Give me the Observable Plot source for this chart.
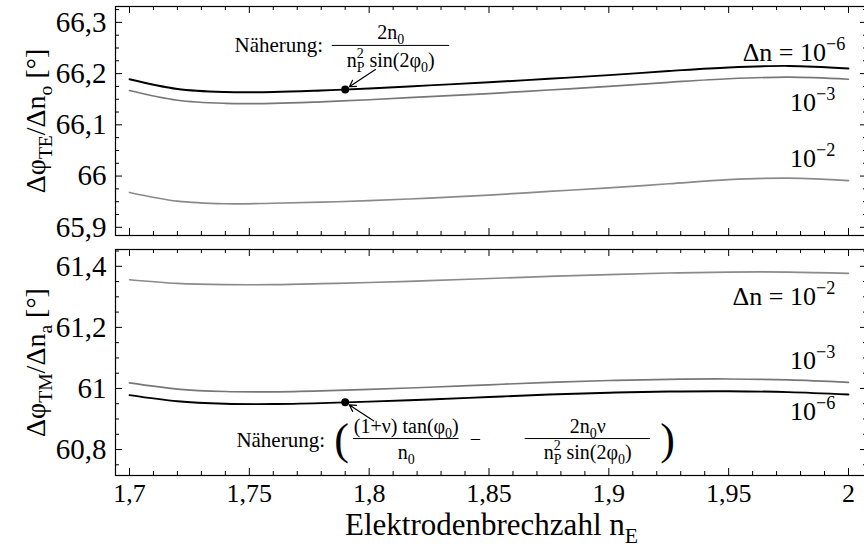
<!DOCTYPE html>
<html><head><meta charset="utf-8">
<script src="https://cdn.jsdelivr.net/npm/d3@7"></script>
<script src="https://cdn.jsdelivr.net/npm/@observablehq/plot@0.6"></script>
<style>
html,body{margin:0;padding:0;background:#fff;overflow:hidden}
#chart svg{display:block;max-width:none}
</style></head><body><div id="chart"></div>
<script>
// ---------- data ----------
const nE = [1.70, 1.72, 1.74, 1.76, 1.78, 1.80, 1.825, 1.85, 1.875, 1.90, 1.925, 1.95, 1.975, 2.00];
// TE panel (Δφ_TE/Δn_o)
const te_1e6 = [66.189, 66.170, 66.164, 66.164, 66.167, 66.171, 66.177, 66.183, 66.190, 66.197, 66.205, 66.212, 66.215, 66.210];
const te_1e3 = [66.167, 66.148, 66.142, 66.142, 66.145, 66.149, 66.155, 66.161, 66.168, 66.175, 66.183, 66.190, 66.193, 66.189];
const te_1e2 = [65.968, 65.951, 65.946, 65.947, 65.949, 65.952, 65.957, 65.963, 65.970, 65.977, 65.985, 65.993, 65.996, 65.991];
// TM panel (Δφ_TM/Δn_a)
const tm_1e2 = [61.356, 61.344, 61.340, 61.340, 61.343, 61.347, 61.353, 61.360, 61.367, 61.373, 61.378, 61.381, 61.381, 61.377];
const tm_1e3 = [61.018, 60.998, 60.990, 60.989, 60.992, 60.997, 61.004, 61.012, 61.020, 61.026, 61.030, 61.031, 61.028, 61.020];
const tm_1e6 = [60.978, 60.958, 60.950, 60.949, 60.952, 60.957, 60.964, 60.972, 60.980, 60.986, 60.990, 60.991, 60.988, 60.980];

// approximation points ("Näherung")
const approxX = 1.79;
const approxTE = 66.169;
const approxTM = 60.955;

const xTicks = [1.7, 1.75, 1.8, 1.85, 1.9, 1.95, 2];
const yTicksTE = [65.9, 66, 66.1, 66.2, 66.3];
const yTicksTM = [60.8, 61, 61.2, 61.4];

// ---------- helpers ----------
const FONT = "'Liberation Serif', 'DejaVu Serif', serif";
const fmt = d => String(+d.toFixed(3)).replace(".", ",");
const W = 864, ML = 115, MR = -3;
const xDomain = [1.69416, 2.00793];
const rows = (arr, s) => nE.map((x, i) => ({x, y: arr[i], s}));
const minorX = d3.range(169, 201).map(d => d / 100).filter(v => v >= xDomain[0] && !xTicks.some(t => Math.abs(t - v) < 1e-9));

function tickRules(fh, fw, yMajor, yMinor) {
  const L = 7, l = 4;
  return [
    Plot.ruleX(xTicks, {x: d => d, insetBottom: fh - L, stroke: "black"}),
    Plot.ruleX(xTicks, {x: d => d, insetTop: fh - L, stroke: "black"}),
    Plot.ruleX(minorX, {x: d => d, insetBottom: fh - l, stroke: "black"}),
    Plot.ruleX(minorX, {x: d => d, insetTop: fh - l, stroke: "black"}),
    Plot.ruleY(yMajor, {y: d => d, insetRight: fw - L, stroke: "black"}),
    Plot.ruleY(yMajor, {y: d => d, insetLeft: fw - L, stroke: "black"}),
    Plot.ruleY(yMinor, {y: d => d, insetRight: fw - l, stroke: "black"}),
    Plot.ruleY(yMinor, {y: d => d, insetLeft: fw - l, stroke: "black"})
  ];
}

function richify(root) {
  root.querySelectorAll("text").forEach(el => {
    const s = el.textContent;
    if (!/[_^]\{/.test(s)) return;
    const fs = parseFloat(getComputedStyle(el).fontSize);
    const segs = []; const re = /([_^])\{([^}]*)\}|([^_^]+)/g; let m;
    while ((m = re.exec(s))) segs.push(m[3] !== undefined ? {t: m[3], k: 0} : {t: m[2], k: m[1] === "_" ? 1 : 2});
    el.textContent = "";
    let cur = 0, prevSupW = 0, prevK = 0;
    segs.forEach(sg => {
      const ts = document.createElementNS("http://www.w3.org/2000/svg", "tspan");
      const shift = sg.k === 1 ? 0.25 * fs : sg.k === 2 ? -0.42 * fs : 0;
      ts.setAttribute("dy", (shift - cur).toFixed(2));
      cur = shift;
      if (sg.k) ts.setAttribute("font-size", (0.7 * fs).toFixed(2));
      if (sg.k === 1 && prevK === 2) ts.setAttribute("dx", (-prevSupW).toFixed(2));
      ts.textContent = sg.t;
      el.appendChild(ts);
      if (sg.k === 2) prevSupW = ts.getComputedTextLength();
      prevK = sg.k;
    });
  });
}

const style = {fontFamily: FONT, fontSize: "28px", background: "white", color: "black", overflow: "hidden"};
const lineStyle = {
  "1e-6": {stroke: "#000", strokeWidth: 1.9},
  "1e-3": {stroke: "#777", strokeWidth: 1.7},
  "1e-2": {stroke: "#8a8a8a", strokeWidth: 1.7}
};
const lineMarks = (series) => series.map(([arr, key]) =>
  Plot.line(rows(arr, key), {x: "x", y: "y", curve: "catmull-rom", ...lineStyle[key]}));
const yTitle = (t) => Plot.text([t], {text: d => d, frameAnchor: "left", textAnchor: "middle", lineAnchor: "middle", rotate: -90, dx: -79, fontSize: 28});

// ---------- top panel (TE) ----------
const topH = 242, topMT = 6, topMB = 7;
const teDomain = [65.884, 66.331];
const teMinor = d3.range(65875, 66340, 25).map(d => d / 1000).filter(v => v >= teDomain[0] && v <= teDomain[1] && !yTicksTE.some(t => Math.abs(t - v) < 1e-9));

const plotTE = Plot.plot({
  width: W, height: topH, marginLeft: ML, marginRight: MR, marginTop: topMT, marginBottom: topMB,
  style,
  x: {domain: xDomain, axis: null},
  y: {domain: teDomain, axis: null},
  marks: [
    ...lineMarks([[te_1e2, "1e-2"], [te_1e3, "1e-3"], [te_1e6, "1e-6"]]),
    Plot.frame({stroke: "black", strokeWidth: 1.2}),
    ...tickRules(topH - topMT - topMB, W - ML - MR, yTicksTE, teMinor),
    Plot.axisY({ticks: yTicksTE, tickSize: 0, tickPadding: 9, tickFormat: fmt, label: null, fontSize: 29}),
    yTitle("Δφ_{TE}/Δn_{o} [°]"),
    // curve labels
    Plot.text([{x: 1.9987, y: 66.2414, t: "Δn = 10^{−6}"}, {x: 1.9945, y: 66.1437, t: "10^{−3}"}, {x: 1.9945, y: 66.0344, t: "10^{−2}"}],
      {x: "x", y: "y", text: "t", textAnchor: "end", fontSize: 26}),
    // approximation annotation
    Plot.text([{x: 1.7438, y: 66.255, t: "Näherung:"}], {x: "x", y: "y", text: "t", textAnchor: "start", fontSize: 21}),
    Plot.text([{x: 1.809, y: 66.2795, t: "2n_{0}"}, {x: 1.809, y: 66.2262, t: "n^{2}_{P} sin(2φ_{0})"}], {x: "x", y: "y", text: "t", fontSize: 20}),
    Plot.ruleY([{y: 66.255, x1: 1.7846, x2: 1.8336}], {y: "y", x1: "x1", x2: "x2", stroke: "black", strokeWidth: 1}),
    Plot.arrow([{x1: 1.8026, y1: 66.208, x2: approxX, y2: approxTE}], {x1: "x1", y1: "y1", x2: "x2", y2: "y2", headLength: 9, insetEnd: 5, strokeWidth: 1.2, stroke: "black"}),
    Plot.dot([{x: approxX, y: approxTE}], {x: "x", y: "y", r: 4, fill: "black"})
  ]
});

// ---------- bottom panel (TM) ----------
const botH = 311, botMT = 7, botMB = 78;
const tmDomain = [60.715, 61.455];
const tmMinor = d3.range(60700, 61460, 50).map(d => d / 1000).filter(v => v >= tmDomain[0] && v <= tmDomain[1] && !yTicksTM.some(t => Math.abs(t - v) < 1e-9));

const plotTM = Plot.plot({
  width: W, height: botH, marginLeft: ML, marginRight: MR, marginTop: botMT, marginBottom: botMB,
  style,
  x: {domain: xDomain, axis: null},
  y: {domain: tmDomain, axis: null},
  marks: [
    ...lineMarks([[tm_1e2, "1e-2"], [tm_1e3, "1e-3"], [tm_1e6, "1e-6"]]),
    Plot.frame({stroke: "black", strokeWidth: 1.2}),
    ...tickRules(botH - botMT - botMB, W - ML - MR, yTicksTM, tmMinor),
    Plot.axisY({ticks: yTicksTM, tickSize: 0, tickPadding: 9, tickFormat: fmt, label: null, fontSize: 29}),
    Plot.axisX({ticks: xTicks, tickSize: 0, tickPadding: 8, tickFormat: fmt, label: null, anchor: "bottom", fontSize: 26}),
    yTitle("Δφ_{TM}/Δn_{a} [°]"),
    Plot.text(["Elektrodenbrechzahl n_{E}"], {text: d => d, frameAnchor: "bottom", lineAnchor: "middle", dy: 50, fontSize: 31}),
    Plot.text([{x: 1.9945, y: 61.3016, t: "Δn = 10^{−2}"}, {x: 1.9945, y: 61.0918, t: "10^{−3}"}, {x: 1.9945, y: 60.9246, t: "10^{−6}"}],
      {x: "x", y: "y", text: "t", textAnchor: "end", fontSize: 26}),
    Plot.text([{x: 1.7446, y: 60.8295, t: "Näherung:"}], {x: "x", y: "y", text: "t", textAnchor: "start", fontSize: 21}),
    Plot.text([{x: 1.7885, y: 60.832, t: "("}, {x: 1.9245, y: 60.832, t: ")"}], {x: "x", y: "y", text: "t", fontSize: 44}),
    Plot.text([
      {x: 1.8155, y: 60.8754, t: "(1+ν) tan(φ_{0})"}, {x: 1.8155, y: 60.7914, t: "n_{0}"},
      {x: 1.8443, y: 60.834, t: "−"},
      {x: 1.8912, y: 60.8754, t: "2n_{0}ν"}, {x: 1.8912, y: 60.7914, t: "n^{2}_{P} sin(2φ_{0})"}
    ], {x: "x", y: "y", text: "t", fontSize: 20}),
    Plot.ruleY([{y: 60.836, x1: 1.7935, x2: 1.8375}, {y: 60.836, x1: 1.8651, x2: 1.9174}], {y: "y", x1: "x1", x2: "x2", stroke: "black", strokeWidth: 1}),
    Plot.arrow([{x1: 1.8018, y1: 60.894, x2: approxX, y2: approxTM}], {x1: "x1", y1: "y1", x2: "x2", y2: "y2", headLength: 9, insetEnd: 5, strokeWidth: 1.2, stroke: "black"}),
    Plot.dot([{x: approxX, y: approxTM}], {x: "x", y: "y", r: 4, fill: "black"})
  ]
});

const root = document.getElementById("chart");
root.appendChild(plotTE);
root.appendChild(plotTM);
richify(root);
</script>
</body></html>
